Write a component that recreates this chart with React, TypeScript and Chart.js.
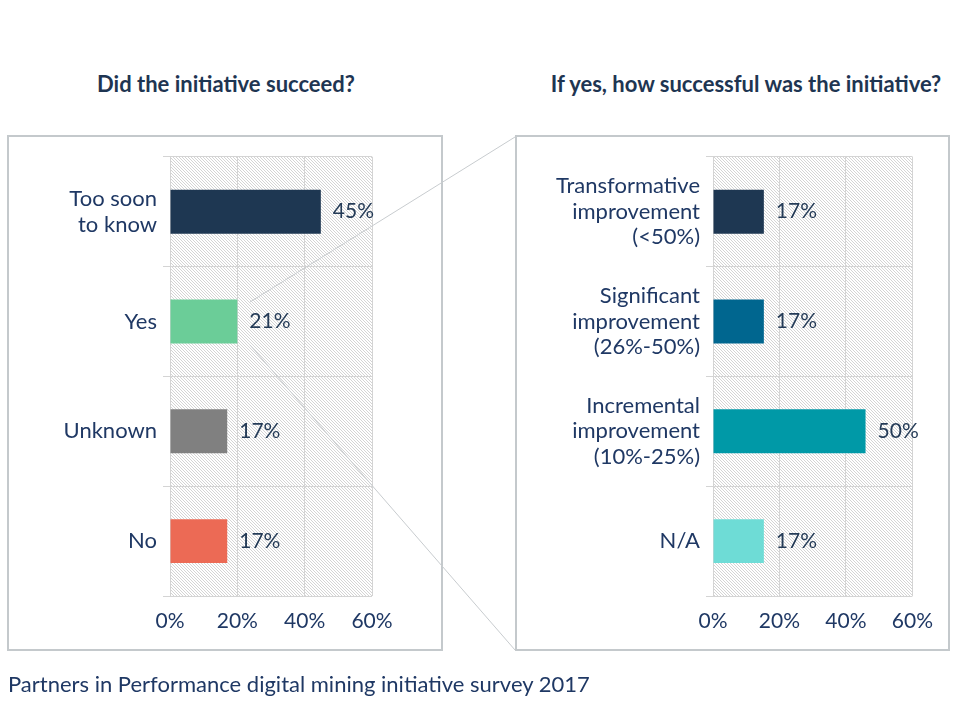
import React, { useEffect, useRef } from "react";
import { Chart, registerables } from "chart.js";

Chart.register(...registerables);

// ---- data ----
const successTitle = "Did the initiative succeed?";
const successCategories: (string | string[])[] = [["Too soon", "to know"], "Yes", "Unknown", "No"];
const successValues = [44.8, 20, 17, 17];
const successLabels = ["45%", "21%", "17%", "17%"];
const successColors = ["#1e3752", "#6bcd98", "#808080", "#ec6a55"];

const degreeTitle = "If yes, how successful was the initiative?";
const degreeCategories: (string | string[])[] = [
  ["Transformative", "improvement", "(<50%)"],
  ["Significant", "improvement", "(26%-50%)"],
  ["Incremental", "improvement", "(10%-25%)"],
  "N/A",
];
const degreeValues = [15.3, 15.3, 45.9, 15.3];
const degreeLabels = ["17%", "17%", "50%", "17%"];
const degreeColors = ["#1e3752", "#00668f", "#0099a7", "#6edcd6"];

const axisMin = 0;
const axisMax = 60;
const axisStep = 20;

const sourceNote = "Partners in Performance digital mining initiative survey 2017";

// ---- styling ----
const FONT = "Lato, 'Open Sans', sans-serif";
const NAVY = "#1f3864";
const LABEL = "#243b57";
const GRID = "#d4d4d4";

function makeHatch(): CanvasPattern | string {
  const n = 3;
  const c = document.createElement("canvas");
  c.width = n;
  c.height = n;
  const ctx = c.getContext("2d");
  if (!ctx) return "#eee";
  const img = ctx.createImageData(n, n);
  for (let y = 0; y < n; y++) {
    for (let x = 0; x < n; x++) {
      const i = (y * n + x) * 4;
      const on = (((x - y) % n) + n) % n === 0;
      const v = on ? 212 : 255;
      img.data[i] = v;
      img.data[i + 1] = v;
      img.data[i + 2] = v;
      img.data[i + 3] = 255;
    }
  }
  ctx.putImageData(img, 0, 0);
  const p = ctx.createPattern(c, "repeat");
  return p || "#eee";
}

const hatchPlugin = {
  id: "hatchBg",
  beforeDraw(chart: any) {
    const { ctx, chartArea } = chart;
    if (!chartArea) return;
    ctx.save();
    ctx.fillStyle = makeHatch();
    ctx.fillRect(chartArea.left, chartArea.top, chartArea.right - chartArea.left, chartArea.bottom - chartArea.top);
    ctx.restore();
  },
};

const valueLabelPlugin = {
  id: "valueLabels",
  afterDatasetsDraw(chart: any) {
    const { ctx } = chart;
    const labels: string[] = chart.options.plugins.valueLabels.labels;
    const meta = chart.getDatasetMeta(0);
    ctx.save();
    ctx.font = `21px ${FONT}`;
    ctx.fillStyle = LABEL;
    ctx.textAlign = "left";
    ctx.textBaseline = "middle";
    meta.data.forEach((bar: any, i: number) => {
      ctx.fillText(labels[i], bar.x + 12, bar.y);
    });
    ctx.restore();
  },
};

function BarPanel(props: {
  left: number;
  top: number;
  width: number;
  height: number;
  yWidth: number;
  rightPad: number;
  categories: (string | string[])[];
  values: number[];
  labels: string[];
  colors: string[];
}) {
  const ref = useRef<HTMLCanvasElement>(null);
  useEffect(() => {
    if (!ref.current) return;
    const chart = new Chart(ref.current, {
      type: "bar",
      data: {
        labels: props.categories as any,
        datasets: [
          {
            data: props.values,
            backgroundColor: props.colors,
            borderWidth: 0,
            barPercentage: 0.8,
            categoryPercentage: 0.5,
          },
        ],
      },
      options: {
        indexAxis: "y",
        responsive: false,
        animation: false,
        devicePixelRatio: 1,
        layout: { padding: { top: 16, right: props.rightPad, left: 0, bottom: 0 } },
        scales: {
          x: {
            min: axisMin,
            max: axisMax,
            ticks: {
              stepSize: axisStep,
              callback: (v: any) => `${v}%`,
              color: NAVY,
              font: { family: FONT, size: 21 },
              padding: 13,
            },
            grid: { color: GRID, drawTicks: false, lineWidth: 1 },
            border: { display: false },
            afterFit: (s: any) => {
              s.height = 50;
            },
          },
          y: {
            ticks: {
              color: NAVY,
              font: { family: FONT, size: 22, lineHeight: 1.16 },
              padding: 6,
              autoSkip: false,
            },
            grid: { color: GRID, offset: true, drawTicks: true, tickLength: 7, lineWidth: 1 },
            border: { display: false },
            afterFit: (s: any) => {
              s.width = props.yWidth;
            },
          },
        },
        plugins: {
          legend: { display: false },
          tooltip: { enabled: false },
          valueLabels: { labels: props.labels },
        } as any,
      },
      plugins: [hatchPlugin, valueLabelPlugin],
    } as any);
    return () => chart.destroy();
  }, []);
  return (
    <canvas
      ref={ref}
      width={props.width}
      height={props.height}
      style={{ position: "absolute", left: props.left, top: props.top, width: props.width, height: props.height }}
    />
  );
}

export default function App() {
  const boxStyle: React.CSSProperties = {
    position: "absolute",
    boxSizing: "border-box",
    border: "2px solid #c4c9cc",
    background: "#fff",
  };
  const titleStyle: React.CSSProperties = {
    position: "absolute",
    top: 71,
    height: 26,
    lineHeight: "26px",
    fontFamily: FONT,
    fontWeight: 700,
    fontSize: 22,
    color: "#1e3552",
    textAlign: "center",
    whiteSpace: "nowrap",
  };
  return (
    <div style={{ position: "absolute", left: 0, top: 0, width: 960, height: 720, background: "#fff", overflow: "hidden" }}>
      <div style={{ ...titleStyle, left: 26, width: 400 }}>{successTitle}</div>
      <div style={{ ...titleStyle, left: 546, width: 400 }}>{degreeTitle}</div>

      <div style={{ ...boxStyle, left: 7, top: 135, width: 436, height: 516 }} />
      <div style={{ ...boxStyle, left: 515, top: 135, width: 435, height: 516 }} />

      <BarPanel
        left={10}
        top={138}
        width={430}
        height={508}
        yWidth={160}
        rightPad={68}
        categories={successCategories}
        values={successValues}
        labels={successLabels}
        colors={successColors}
      />
      <BarPanel
        left={518}
        top={138}
        width={428}
        height={508}
        yWidth={195}
        rightPad={29}
        categories={degreeCategories}
        values={degreeValues}
        labels={degreeLabels}
        colors={degreeColors}
      />

      <svg width={960} height={720} style={{ position: "absolute", left: 0, top: 0, pointerEvents: "none" }}>
        <line x1={250} y1={302} x2={515} y2={137} stroke="#c8cccf" strokeWidth={1} />
        <line x1={250} y1={345} x2={515} y2={650} stroke="#c8cccf" strokeWidth={1} />
      </svg>

      <div
        style={{
          position: "absolute",
          left: 8,
          top: 670,
          height: 28,
          lineHeight: "28px",
          fontFamily: FONT,
          fontSize: 22,
          color: "#1f3864",
          whiteSpace: "nowrap",
        }}
      >
        {sourceNote}
      </div>
    </div>
  );
}
